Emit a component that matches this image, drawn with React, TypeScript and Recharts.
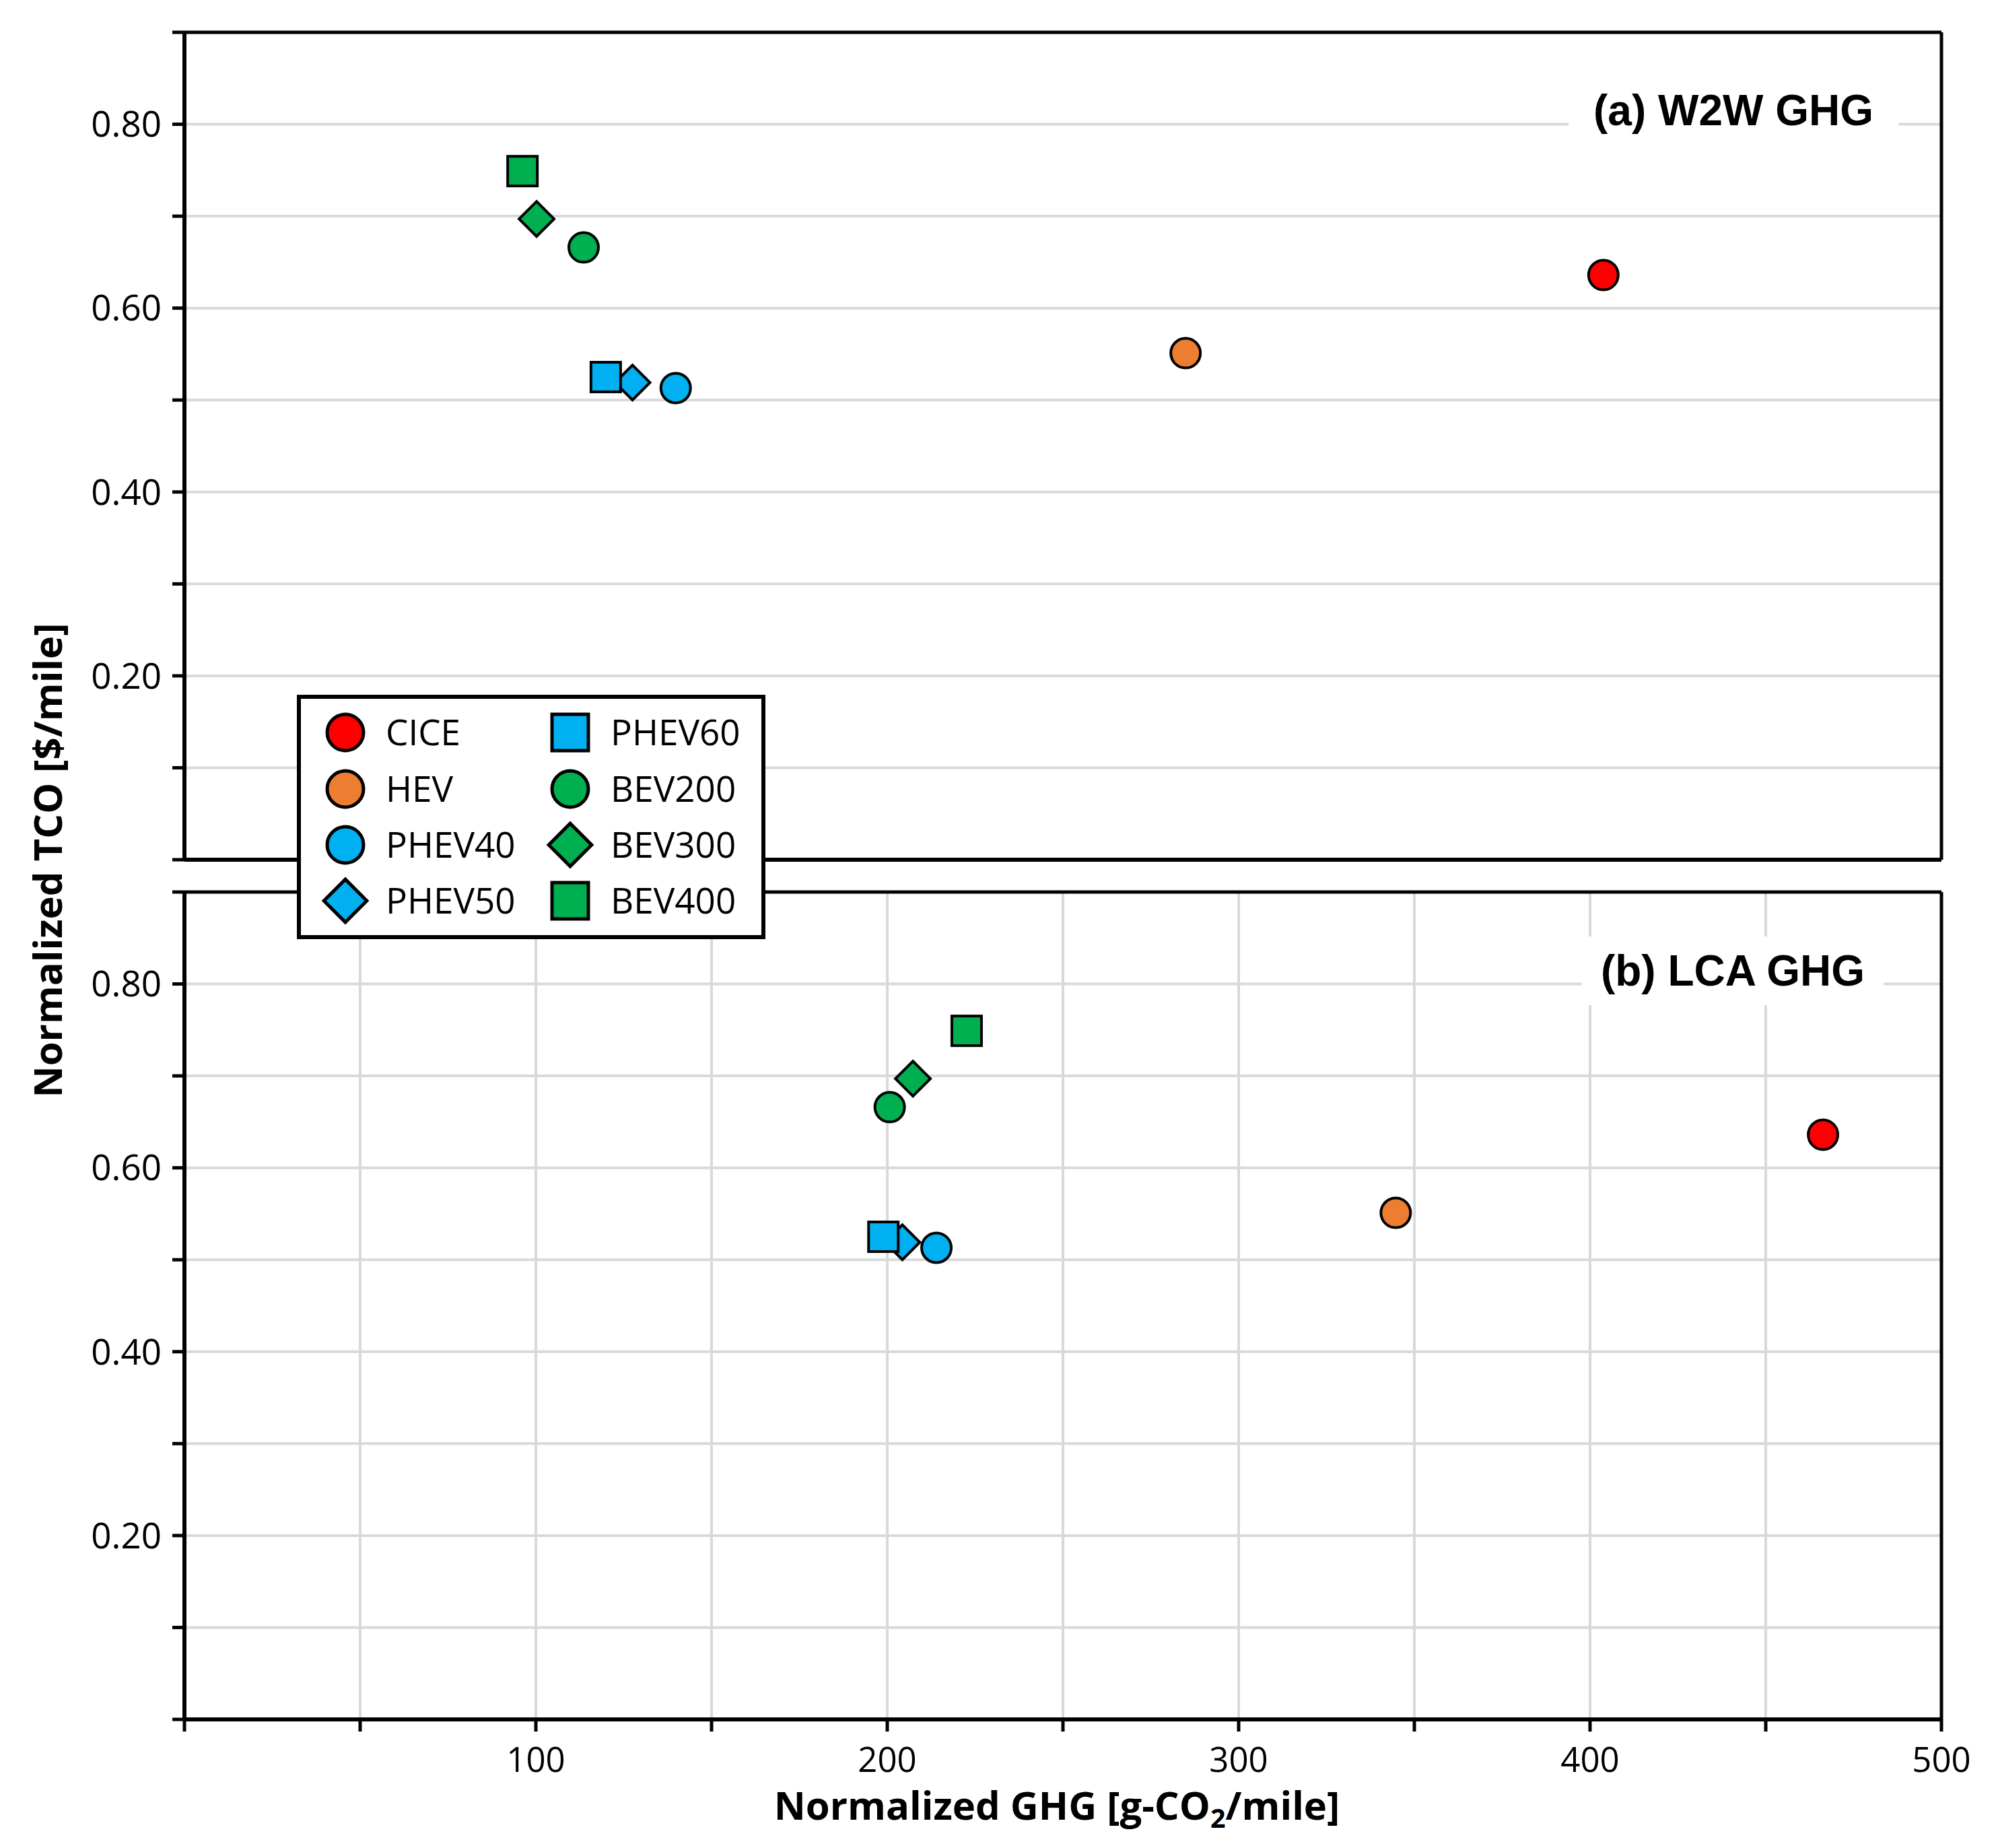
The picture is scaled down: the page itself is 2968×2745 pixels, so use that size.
import { ScatterChart, Scatter, XAxis, YAxis, CartesianGrid, ReferenceLine } from 'recharts'

// vehicle powertrains, in legend order
const vehicles = ['CICE', 'HEV', 'PHEV40', 'PHEV50', 'PHEV60', 'BEV200', 'BEV300', 'BEV400']

// normalized TCO [$/mile] (same in both panels)
const tco = [0.636, 0.551, 0.513, 0.519, 0.525, 0.666, 0.697, 0.749]

// normalized GHG [g-CO2/mile]
const w2wGhg = [403.8, 284.9, 139.8, 127.5, 119.9, 113.6, 100.2, 96.2]
const lcaGhg = [466.3, 344.7, 214.0, 204.3, 198.9, 200.7, 207.3, 222.6]

const xTicks = [0, 50, 100, 150, 200, 250, 300, 350, 400, 450, 500]
const yTicks = [0, 0.1, 0.2, 0.3, 0.4, 0.5, 0.6, 0.7, 0.8, 0.9]

const colors = ['#FF0000', '#ED7D31', '#00B0F0', '#00B0F0', '#00B0F0', '#00B050', '#00B050', '#00B050']
const shapes = ['circle', 'circle', 'circle', 'diamond', 'square', 'circle', 'diamond', 'square']

const X_TICK_FONT = { fill: '#000', fontSize: 51, fontFamily: '"Open Sans", sans-serif' }
const Y_TICK_FONT = { fill: '#000', fontSize: 53, fontFamily: '"Open Sans", sans-serif' }

function Marker({ cx, cy, fill, shape, size, sw }: any) {
  if (cx == null || cy == null) return null
  if (shape === 'square') {
    return <rect x={cx - size} y={cy - size} width={size * 2} height={size * 2} fill={fill} stroke="#000" strokeWidth={sw} />
  }
  if (shape === 'diamond') {
    const d = size * 1.18
    return (
      <polygon
        points={`${cx},${cy - d} ${cx + d},${cy} ${cx},${cy + d} ${cx - d},${cy}`}
        fill={fill}
        stroke="#000"
        strokeWidth={sw}
        strokeLinejoin="miter"
      />
    )
  }
  return <circle cx={cx} cy={cy} r={size} fill={fill} stroke="#000" strokeWidth={sw} />
}

function fmtX(v: number) {
  return v > 0 && v % 100 === 0 ? String(v) : ''
}

function fmtY(v: number) {
  const k = Math.round(v * 10)
  return k > 0 && k < 9 && k % 2 === 0 ? v.toFixed(2) : ''
}

function Panel({ ghg, showXLabels }: { ghg: number[]; showXLabels: boolean }) {
  const xAxisHeight = showXLabels ? 100 : 23
  return (
    <ScatterChart
      width={2968}
      height={48 + 1229 + xAxisHeight}
      margin={{ top: 48, right: 84, bottom: 0, left: 0 }}
    >
      <CartesianGrid stroke="#d9d9d9" strokeWidth={4} />
      <XAxis
        type="number"
        dataKey="x"
        domain={[0, 500]}
        ticks={xTicks}
        interval={0}
        height={xAxisHeight}
        axisLine={{ stroke: '#000', strokeWidth: 6 }}
        tickLine={{ stroke: '#000', strokeWidth: 5 }}
        tickSize={18}
        tickMargin={24}
        tick={showXLabels ? X_TICK_FONT : false}
        tickFormatter={fmtX}
      />
      <YAxis
        type="number"
        dataKey="y"
        domain={[0, 0.9]}
        ticks={yTicks}
        interval={0}
        width={274}
        axisLine={{ stroke: '#000', strokeWidth: 6 }}
        tickLine={{ stroke: '#000', strokeWidth: 5 }}
        tickSize={18}
        tickMargin={16}
        tick={Y_TICK_FONT}
        tickFormatter={fmtY}
      />
      <ReferenceLine y={0.9} stroke="#000" strokeWidth={5} />
      <ReferenceLine x={500} stroke="#000" strokeWidth={5} />
      {vehicles.map((name, i) => (
        <Scatter
          key={name}
          name={name}
          data={[{ x: ghg[i], y: tco[i] }]}
          fill={colors[i]}
          isAnimationActive={false}
          shape={(p: any) => <Marker cx={p.cx} cy={p.cy} fill={colors[i]} shape={shapes[i]} size={22} sw={4} />}
        />
      ))}
    </ScatterChart>
  )
}

function PanelLabel({ text, left, top, width, height }: { text: string; left: number; top: number; width: number; height: number }) {
  return (
    <div
      style={{
        position: 'absolute',
        left,
        top,
        width,
        height,
        background: '#fff',
        display: 'flex',
        alignItems: 'center',
        justifyContent: 'center',
        fontFamily: '"Liberation Sans", Arial, sans-serif',
        fontWeight: 'bold',
        fontSize: 64,
        color: '#000',
        whiteSpace: 'nowrap',
      }}
    >
      {text}
    </div>
  )
}

function LegendBox() {
  const rowY = [56, 140, 223, 306]
  const colX = [72, 406]
  return (
    <svg
      width={696}
      height={363}
      style={{ position: 'absolute', left: 441, top: 1032 }}
    >
      <rect x={3} y={3} width={690} height={357} fill="#fff" stroke="#000" strokeWidth={6} />
      {vehicles.map((name, i) => {
        const col = i < 4 ? 0 : 1
        const row = i % 4
        const cx = colX[col]
        const cy = rowY[row]
        return (
          <g key={name}>
            <Marker cx={cx} cy={cy} fill={colors[i]} shape={shapes[i]} size={27} sw={5} />
            <text
              x={cx + 60}
              y={cy + 19}
              fontFamily='"Open Sans", sans-serif'
              fontSize={53}
              fill="#000"
            >
              {name}
            </text>
          </g>
        )
      })}
    </svg>
  )
}

export default function App() {
  return (
    <div style={{ position: 'relative', width: 2968, height: 2745, margin: -8, background: '#fff' }}>
      <div style={{ position: 'absolute', left: 0, top: 0 }}>
        <Panel ghg={w2wGhg} showXLabels={false} />
      </div>
      <div style={{ position: 'absolute', left: 0, top: 1277 }}>
        <Panel ghg={lcaGhg} showXLabels={true} />
      </div>

      <PanelLabel text="(a) W2W GHG" left={2330} top={113} width={490} height={102} />
      <PanelLabel text="(b) LCA GHG" left={2350} top={1391} width={448} height={102} />

      <LegendBox />

      <div
        style={{
          position: 'absolute',
          left: 70,
          top: 1278,
          transform: 'translate(-50%, -50%) rotate(-90deg)',
          fontFamily: '"Open Sans", sans-serif',
          fontWeight: 'bold',
          fontSize: 58,
          lineHeight: 1,
          whiteSpace: 'nowrap',
          color: '#000',
        }}
      >
        Normalized TCO [$/mile]
      </div>

      <div
        style={{
          position: 'absolute',
          left: 0,
          width: 3140,
          top: 2652,
          textAlign: 'center',
          fontFamily: '"Open Sans", sans-serif',
          fontWeight: 'bold',
          fontSize: 58,
          lineHeight: 1,
          whiteSpace: 'nowrap',
          color: '#000',
        }}
      >
        Normalized GHG [g-CO
        <span style={{ fontSize: '0.68em', position: 'relative', top: '0.3em' }}>2</span>
        /mile]
      </div>
    </div>
  )
}
